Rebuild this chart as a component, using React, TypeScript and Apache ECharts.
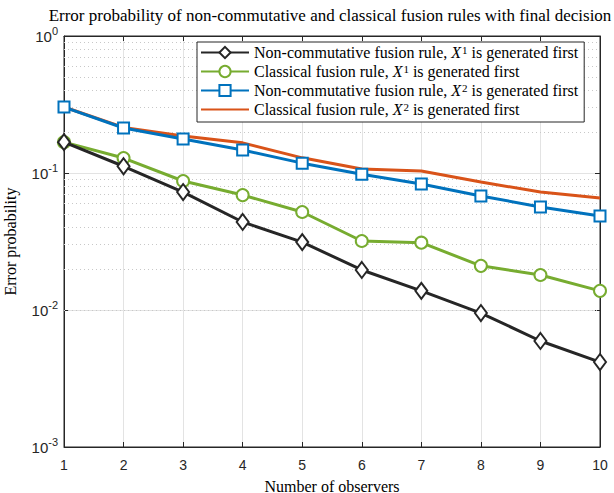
import React, { useEffect, useRef } from "react";
import * as echarts from "echarts";

const observers = [1, 2, 3, 4, 5, 6, 7, 8, 9, 10];
const nonCommX1 = [0.168, 0.112, 0.0726, 0.0439, 0.0313, 0.0196, 0.0138, 0.0095, 0.00594, 0.00417];
const classicalX1 = [0.168, 0.1286, 0.0874, 0.069, 0.0519, 0.0319, 0.031, 0.021, 0.018, 0.0138];
const nonCommX2 = [0.303, 0.213, 0.177, 0.147, 0.118, 0.098, 0.083, 0.068, 0.0565, 0.0485];
const classicalX2 = [0.303, 0.215, 0.186, 0.166, 0.129, 0.107, 0.1035, 0.086, 0.0726, 0.0657];
const minorGrid = [2, 3, 4, 5, 6, 7, 8, 9].flatMap((m) => [m * 0.001, m * 0.01, m * 0.1]);

const SERIF = "Liberation Serif";
const SANS = "Liberation Sans";

export default function App() {
  const ref = useRef<HTMLDivElement>(null);
  useEffect(() => {
    const chart = echarts.init(ref.current!, null, { renderer: "svg" });
    const pair = (ys: number[]) => observers.map((x, i) => [x, ys[i]]);
    const names = [
      "Non-commutative fusion rule, {i|X}{sup|1} is generated first",
      "Classical fusion rule, {i|X}{sup|1} is generated first",
      "Non-commutative fusion rule, {i|X}{sup|2} is generated first",
      "Classical fusion rule, {i|X}{sup|2} is generated first",
    ];
    const lw = 3;
    chart.setOption({
      animation: false,
      backgroundColor: "#fff",
      title: {
        text: "Error probability of non-commutative and classical fusion rules with final decision",
        left: 325,
        textAlign: "center",
        top: 2,
        textStyle: { fontFamily: SERIF, fontSize: 17, fontWeight: "normal", color: "#000" },
      },
      grid: {
        left: 64, right: 14, top: 36, bottom: 46,
        outerBoundsMode: "none", containLabel: false,
        show: true, borderColor: "#262626", borderWidth: 1,
      },
      legend: {
        orient: "vertical",
        left: 197,
        top: 42,
        backgroundColor: "#fff",
        borderColor: "#262626",
        borderWidth: 1,
        borderRadius: 0,
        padding: [2, 6, 3, 3],
        itemGap: 1,
        itemWidth: 48,
        itemHeight: 14,
        data: [
          { name: names[0] },
          { name: names[1] },
          { name: names[2] },
          { name: names[3], itemStyle: { opacity: 0 } },
        ],
        textStyle: {
          fontFamily: SERIF,
          fontSize: 16,
          color: "#000",
          lineHeight: 17,
          rich: {
            i: { fontFamily: SERIF, fontStyle: "italic", fontSize: 16, lineHeight: 17 },
            sup: { fontFamily: SERIF, fontSize: 11, verticalAlign: "top", padding: [0, 0, 7, 1], lineHeight: 17 },
          },
        },
      },
      xAxis: [
        {
          type: "value",
          min: 1,
          max: 10,
          interval: 1,
          name: "Number of observers",
          nameLocation: "middle",
          nameGap: 31,
          nameTextStyle: { fontFamily: SERIF, fontSize: 16, color: "#000" },
          axisLine: { show: true, lineStyle: { color: "#262626" } },
          axisTick: { show: true, inside: true, length: 5, lineStyle: { color: "#262626" } },
          axisLabel: { fontFamily: SANS, fontSize: 14, color: "#262626", margin: 11 },
          splitLine: { show: true, lineStyle: { color: "#e3e3e3", width: 1 } },
        },
        {
          type: "value",
          min: 1,
          max: 10,
          interval: 1,
          position: "top",
          axisLine: { show: true, lineStyle: { color: "#262626" } },
          axisTick: { show: true, inside: true, length: 5, lineStyle: { color: "#262626" } },
          axisLabel: { show: false },
          splitLine: { show: false },
        },
      ],
      yAxis: [
        {
          type: "log",
          logBase: 10,
          min: 0.001,
          max: 1,
          name: "Error probability",
          nameLocation: "middle",
          nameGap: 46,
          nameTextStyle: { fontFamily: SERIF, fontSize: 16, color: "#000" },
          axisLine: { show: true, lineStyle: { color: "#262626" } },
          axisTick: { show: true, inside: true, length: 5, lineStyle: { color: "#262626" } },
          axisLabel: {
            fontFamily: SANS,
            fontSize: 15,
            color: "#262626",
            margin: 6,
            formatter: (v: number) => "10{sup|" + Math.round(Math.log10(v)) + "}",
            rich: {
              sup: { fontFamily: SANS, fontSize: 11, color: "#262626", verticalAlign: "top", padding: [0, 0, 10, 0] },
            },
          },
          splitLine: { show: true, lineStyle: { color: "#e3e3e3", width: 1 } },
        },
        {
          type: "log",
          logBase: 10,
          min: 0.001,
          max: 1,
          position: "right",
          axisLine: { show: true, lineStyle: { color: "#262626" } },
          axisTick: { show: true, inside: true, length: 5, lineStyle: { color: "#262626" } },
          axisLabel: { show: false },
          splitLine: { show: false },
        },
      ],
      series: [
        {
          name: names[0],
          type: "line",
          data: pair(nonCommX1),
          color: "#262626",
          symbol: "emptyDiamond",
          symbolSize: [12, 16],
          lineStyle: { width: lw },
          itemStyle: { borderWidth: lw - 0.5 },
          z: 4,
          markLine: {
            silent: true,
            symbol: "none",
            label: { show: false },
            lineStyle: { color: "#c8c8c8", type: [1, 3], width: 1 },
            data: minorGrid.map((v) => ({ yAxis: v })),
            z: 1,
          },
        },
        {
          name: names[1],
          type: "line",
          data: pair(classicalX1),
          color: "#77AC30",
          symbol: "emptyCircle",
          symbolSize: 12,
          lineStyle: { width: lw },
          itemStyle: { borderWidth: lw - 0.5 },
          z: 3,
        },
        {
          name: names[2],
          type: "line",
          data: pair(nonCommX2),
          color: "#0072BD",
          symbol: "emptyRect",
          symbolSize: 11,
          lineStyle: { width: lw },
          itemStyle: { borderWidth: lw - 0.5 },
          z: 2,
        },
        {
          name: names[3],
          type: "line",
          data: pair(classicalX2),
          color: "#D95319",
          symbol: "emptyCircle",
          showSymbol: false,
          lineStyle: { width: lw },
          z: 1,
        },
      ],
    });
    return () => chart.dispose();
  }, []);
  return <div ref={ref} style={{ width: 614, height: 493, position: "absolute", left: 0, top: 0 }} />;
}
